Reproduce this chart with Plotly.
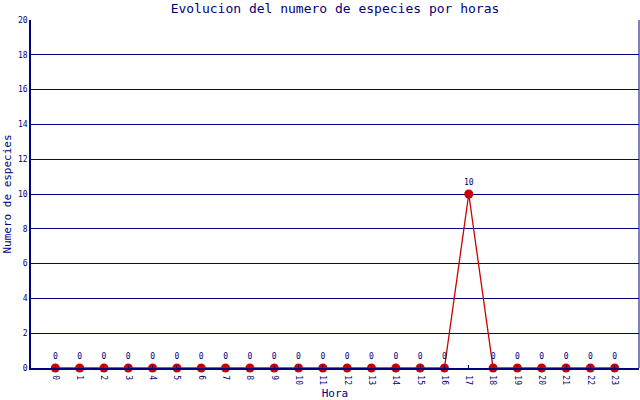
import plotly.graph_objects as go

# hours of the day and species count per hour
horas = [str(h) for h in range(24)]
especies = [0, 0, 0, 0, 0, 0, 0, 0, 0, 0, 0, 0,
            0, 0, 0, 0, 0, 10, 0, 0, 0, 0, 0, 0]

NAVY = "#000080"
RED = "#cc0000"
MONO = "DejaVu Sans Mono"

fig = go.Figure()
fig.add_trace(go.Scatter(
    x=horas, y=especies, mode="lines+markers+text",
    line=dict(color=RED, width=1.3),
    marker=dict(color=RED, size=9),
    text=[str(v) for v in especies], textposition="top center",
    textfont=dict(family=MONO, size=8, color=NAVY),
    cliponaxis=False, showlegend=False,
))

fig.update_layout(
    width=640, height=400,
    margin=dict(l=31, r=1, t=20, b=32),
    paper_bgcolor="white", plot_bgcolor="white",
    title=dict(text="Evolucion del numero de especies por horas",
               x=0.5, xref="paper", y=0.99, yanchor="top",
               font=dict(family=MONO, size=13, color=NAVY)),
    font=dict(family=MONO, color=NAVY),
)
fig.update_xaxes(
    type="category", range=[-1, 24], tickangle=90,
    tickfont=dict(family=MONO, size=8, color=NAVY),
    ticks="inside", ticklen=3, tickcolor=NAVY, ticklabelstandoff=4,
    showgrid=False, showline=True, linecolor=NAVY, linewidth=1.5,
    mirror=False, zeroline=False, automargin=False,
    title=dict(text="Hora", font=dict(family=MONO, size=11, color=NAVY), standoff=5),
)
fig.update_yaxes(
    range=[0, 20], dtick=2,
    tickfont=dict(family=MONO, size=8, color=NAVY),
    showgrid=True, gridcolor=NAVY, gridwidth=1,
    showline=True, linecolor=NAVY, linewidth=1.5, zeroline=False,
    automargin=False,
    title=dict(text="Numero de especies", font=dict(family=MONO, size=11, color=NAVY), standoff=4),
)
# right border of the plot area
fig.add_shape(type="line", xref="paper", yref="paper", x0=1, x1=1, y0=0, y1=1,
              line=dict(color=NAVY, width=1))

# drop the page's default body margin so the figure sits at the window corner
fig.write_html("out.html", config={"displayModeBar": False},
               post_script="document.body.style.margin='0';")
